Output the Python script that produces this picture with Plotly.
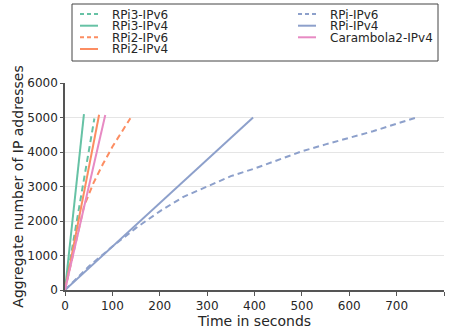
import plotly.graph_objects as go

# ---- data ----
rpi3_v6_t = [0, 20, 40, 62]
rpi3_v6_v = [0, 1620, 3230, 4970]
rpi3_v4_t = [0, 40]
rpi3_v4_v = [0, 5100]
rpi2_v6_t = [0, 20, 40, 60, 80, 100, 120, 138]
rpi2_v6_v = [0, 1250, 2420, 3100, 3650, 4150, 4600, 4980]
rpi2_v4_t = [0, 72]
rpi2_v4_v = [0, 5080]
rpi_v6_t = [0, 50, 100, 150, 200, 250, 300, 350, 400, 450, 500, 550, 600, 650, 700, 740]
rpi_v6_v = [0, 680, 1260, 1800, 2280, 2700, 3000, 3300, 3520, 3780, 4020, 4220, 4400, 4600, 4820, 4990]
rpi_v4_t = [0, 397]
rpi_v4_v = [0, 5000]
car_v4_t = [0, 85]
car_v4_v = [0, 5070]

GREEN, ORANGE, BLUE, PINK = "#66c2a5", "#fc8d62", "#8da0cb", "#e78ac3"
DASH = "6px,4px"

series = [
    ("RPi3-IPv6", rpi3_v6_t, rpi3_v6_v, GREEN, DASH),
    ("RPi3-IPv4", rpi3_v4_t, rpi3_v4_v, GREEN, "solid"),
    ("RPi2-IPv6", rpi2_v6_t, rpi2_v6_v, ORANGE, DASH),
    ("RPi2-IPv4", rpi2_v4_t, rpi2_v4_v, ORANGE, "solid"),
    ("RPi-IPv6", rpi_v6_t, rpi_v6_v, BLUE, DASH),
    ("RPi-IPv4", rpi_v4_t, rpi_v4_v, BLUE, "solid"),
    ("Carambola2-IPv4", car_v4_t, car_v4_v, PINK, "solid"),
]

W, H = 454, 330
ML, MR, MT, MB = 65, 10, 83, 40
PW, PH = W - ML - MR, H - MT - MB

def px(x):
    return (x - ML) / PW

def py(y):
    return (H - MB - y) / PH

FONT = "DejaVu Sans"
TXT = "#262626"

fig = go.Figure()
for name, t, v, c, d in series:
    fig.add_trace(go.Scatter(x=t, y=v, mode="lines", name=name, showlegend=False,
                             line=dict(color=c, width=2, dash=d)))

# manual legend (two columns, compact like the reference)
shapes = [dict(type="rect", xref="paper", yref="paper", x0=px(72), x1=px(438),
               y0=py(61), y1=py(4), line=dict(color="#444444", width=1), fillcolor="white",
               layer="above")]
annotations = []
rows = [14, 25.7, 37.3, 49]
for i, (name, t, v, c, d) in enumerate(series):
    col, row = (0, i) if i < 4 else (1, i - 4)
    sx0, sx1, tx = (80, 98, 110) if col == 0 else (298, 316, 327.5)
    yy = rows[row]
    shapes.append(dict(type="line", xref="paper", yref="paper", x0=px(sx0), x1=px(sx1),
                       y0=py(yy), y1=py(yy),
                       line=dict(color=c, width=2, dash=("4px,3px" if d != "solid" else "solid"))))
    annotations.append(dict(text=name, xref="paper", yref="paper", x=px(tx), y=py(yy),
                            xanchor="left", yanchor="middle", showarrow=False, height=11,
                            font=dict(family=FONT, size=12, color=TXT)))

fig.update_layout(
    width=W, height=H,
    margin=dict(l=ML, r=MR, t=MT, b=MB),
    paper_bgcolor="white", plot_bgcolor="white",
    font=dict(family=FONT, size=12, color=TXT),
    shapes=shapes, annotations=annotations,
    showlegend=False,
)
fig.update_xaxes(range=[0, 800], tickvals=[0, 100, 200, 300, 400, 500, 600, 700, 800],
                 showgrid=False, zeroline=False, showline=True, linecolor="#555555", linewidth=1.5,
                 ticks="outside", ticklen=4, tickcolor="#555555",
                 title=dict(text="Time in seconds", standoff=4), automargin=False)
fig.update_yaxes(range=[0, 6000], tickvals=[0, 1000, 2000, 3000, 4000, 5000, 6000],
                 showgrid=True, gridcolor="#e5e5e5", gridwidth=1, zeroline=False,
                 showline=True, linecolor="#555555", linewidth=1.5,
                 ticks="outside", ticklen=3, tickcolor="#555555",
                 title=dict(text="Aggregate number of IP addresses", standoff=0), automargin=False)

fig.write_html("out.html", config={"displayModeBar": False},
               post_script="document.body.style.margin='0';")
